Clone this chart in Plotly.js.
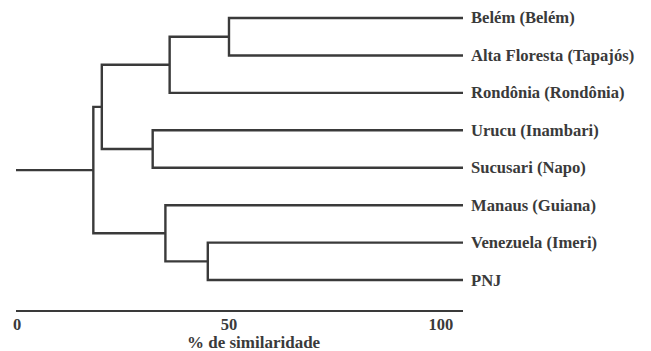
<!DOCTYPE html>
<html><head><meta charset="utf-8">
<script src="https://cdn.plot.ly/plotly-3.0.1.min.js"></script>
<style>html,body{margin:0;padding:0;background:#fff}#chart{width:651px;height:351px}</style>
</head><body><div id="chart"></div>
<script>
// Leaves, top to bottom
var leaves = ["Belém (Belém)", "Alta Floresta (Tapajós)", "Rondônia (Rondônia)",
  "Urucu (Inambari)", "Sucusari (Napo)", "Manaus (Guiana)", "Venezuela (Imeri)", "PNJ"];
// Merges: children (leaf index or "n"+merge index) and % similarity
var mergeA = [0, "n0", 3, "n1", 6, 5, "n3"];
var mergeB = [1, 2, 4, "n2", 7, "n4", "n5"];
var mergeSim = [50, 36, 32, 20, 45, 35, 18];
var tickVals = [0, 50, 100];
var tickText = ["0", "50", "100"];
var axisTitle = "% de similaridade";

var xRange = [-0.24, 105.2];
var lineColor = "#3a3a3a";
var xs = [], ys = [];
var nodeY = [], nodeX = [];
function pos(c) {
  if (typeof c === "number") return {x: xRange[1], y: c};
  var k = parseInt(c.slice(1));
  return {x: nodeX[k], y: nodeY[k]};
}
for (var i = 0; i < mergeSim.length; i++) {
  var a = pos(mergeA[i]), b = pos(mergeB[i]);
  var s = mergeSim[i];
  xs.push(a.x, s, s, b.x, null);
  ys.push(a.y, a.y, b.y, b.y, null);
  nodeX[i] = s; nodeY[i] = (a.y + b.y) / 2;
}
var root = mergeSim.length - 1;
xs.push(xRange[0], nodeX[root], null);
ys.push(nodeY[root], nodeY[root], null);

function f(size) {
  return {family: "'Liberation Serif', 'Times New Roman', serif", size: size, color: "#3a3a3a", weight: "bold"};
}
var annotations = leaves.map(function (t, i) {
  return {xref: "paper", yref: "y", x: 1, y: i, text: t, showarrow: false,
    xanchor: "left", yanchor: "middle", xshift: 6, font: f(16.6)};
});
annotations.push({xref: "paper", yref: "paper", x: 0.532, y: -0.107, text: axisTitle,
  showarrow: false, xanchor: "center", yanchor: "middle", font: f(17)});

Plotly.newPlot("chart", [{
  x: xs, y: ys, mode: "lines", type: "scatter",
  line: {color: lineColor, width: 2.4}, hoverinfo: "skip", cliponaxis: false
}], {
  width: 651, height: 351,
  margin: {l: 16, r: 188, t: 5, b: 41},
  paper_bgcolor: "#fff", plot_bgcolor: "#fff",
  showlegend: false,
  xaxis: {range: xRange, showgrid: false, zeroline: false, showline: true, linecolor: lineColor,
    linewidth: 2.4, tickvals: tickVals, ticktext: tickText,
    ticks: "", tickfont: f(16.5), fixedrange: true, ticklabelstandoff: -2},
  yaxis: {range: [7.80, -0.347], visible: false, fixedrange: true},
  annotations: annotations
}, {displayModeBar: false, staticPlot: true});
</script></body></html>
